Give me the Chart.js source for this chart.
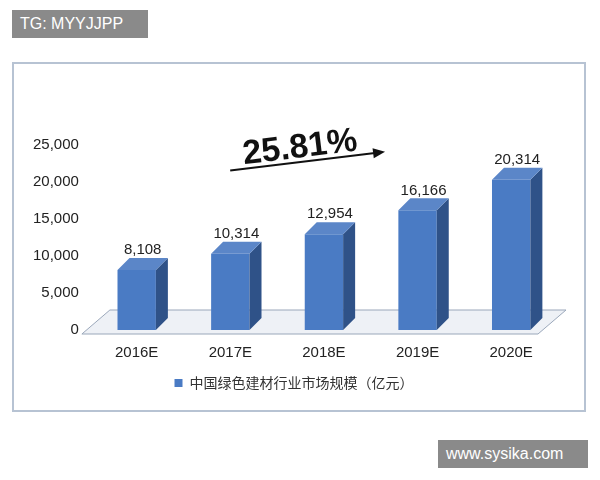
<!DOCTYPE html><html><head><meta charset="utf-8">
<script src="https://cdn.jsdelivr.net/npm/chart.js@4/dist/chart.umd.min.js"></script>
<style>body{margin:0;background:#fff;width:600px;height:480px;position:relative;overflow:hidden;font-family:"Liberation Sans",Arial,sans-serif}
#frame{position:absolute;left:12px;top:62px;width:574px;height:350px;border:2px solid #b7c3d3;box-sizing:border-box}
.wm{position:absolute;background:#8a8a8a;color:#fff;font-size:16px;padding:4px 8px}
canvas{position:absolute;left:0;top:0}</style></head><body>
<div id="frame"></div>
<canvas id="c" width="600" height="480"></canvas>
<div class="wm" style="left:12px;top:10px;width:120px;height:20px;line-height:20px">TG: MYYJJPP</div>
<div class="wm" style="left:438px;top:440px;width:134px;height:20px;line-height:20px">www.sysika.com</div>
<script>
const categories=["2016E","2017E","2018E","2019E","2020E"];
const values=[8108,10314,12954,16166,20314];
const yTicks=[0,5000,10000,15000,20000,25000];
const seriesName="中国绿色建材行业市场规模（亿元）";
const growth="25.81%";
const D=12;
const threeD={id:'threeD',
beforeDatasetsDraw(ch){const c=ch.ctx,a=ch.chartArea,y0=ch.scales.y.getPixelForValue(0);
 c.save();c.fillStyle='#eef1f6';c.strokeStyle='#9aa7ba';c.lineWidth=1;
 c.beginPath();c.moveTo(a.left-8,y0+4);c.lineTo(a.right-20,y0+4);c.lineTo(a.right+8,y0-20);c.lineTo(a.left+20,y0-20);c.closePath();c.fill();c.stroke();c.restore();},
afterDatasetsDraw(ch){const c=ch.ctx;c.save();
 ch.getDatasetMeta(0).data.forEach((b,i)=>{const l=b.x-b.width/2,r=b.x+b.width/2,t=b.y,bt=b.base;
  c.fillStyle='#2f5288';c.beginPath();c.moveTo(r,t);c.lineTo(r+D,t-D);c.lineTo(r+D,bt-D);c.lineTo(r,bt);c.fill();
  c.fillStyle='#5b86c8';c.beginPath();c.moveTo(l,t);c.lineTo(l+D,t-D);c.lineTo(r+D,t-D);c.lineTo(r,t);c.fill();
  c.fillStyle='#222';c.font='15px "Liberation Sans"';c.textAlign='center';c.fillText(values[i].toLocaleString('en-US'),b.x+6,t-D-8);});
 c.translate(300,148);c.rotate(-0.12);c.font='bold 34px "Liberation Sans"';c.fillStyle='#111';c.textAlign='center';c.fillText(growth,0,0);
 c.strokeStyle='#111';c.lineWidth=2;c.beginPath();c.moveTo(-72,14);c.lineTo(78,14);c.stroke();
 c.beginPath();c.moveTo(84,14);c.lineTo(72,9);c.lineTo(72,19);c.closePath();c.fill();
 c.restore();}};
new Chart(document.getElementById('c'),{type:'bar',
data:{labels:categories,datasets:[{label:seriesName,data:values,backgroundColor:'#4a7bc4',borderWidth:0,categoryPercentage:0.82,barPercentage:0.5}]},
plugins:[threeD],
options:{responsive:false,animation:false,layout:{padding:{left:30,right:42,top:145,bottom:80}},
plugins:{legend:{position:'bottom',labels:{boxWidth:8,boxHeight:8,color:'#333',font:{size:14,family:'"Noto Sans CJK SC"'},padding:8}},tooltip:{enabled:false}},
scales:{x:{grid:{display:false},border:{display:false},ticks:{color:'#222',font:{size:15,family:'"Liberation Sans"'},padding:6}},
y:{min:0,max:25000,afterBuildTicks(s){s.ticks=yTicks.map(v=>({value:v}));},grid:{display:false},border:{display:false},
ticks:{color:'#222',font:{size:15,family:'"Liberation Sans"'},callback:v=>v.toLocaleString('en-US')}}}}});
</script></body></html>
